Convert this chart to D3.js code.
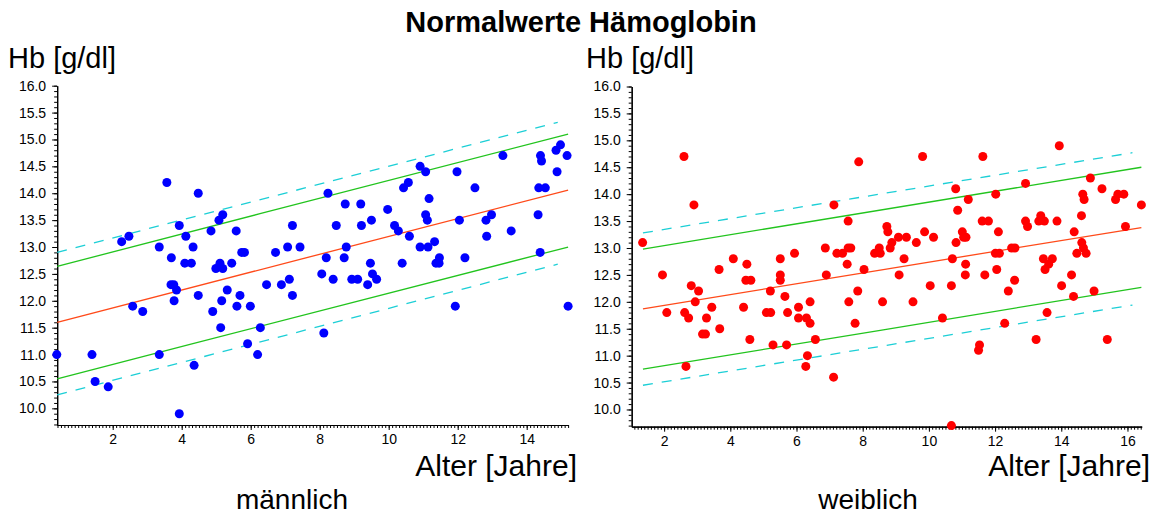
<!DOCTYPE html>
<html><head><meta charset="utf-8">
<script src="https://cdn.jsdelivr.net/npm/d3@7"></script>
<style>
body{margin:0;background:#fff;}
svg{display:block;font-family:"Liberation Sans",Arial,Helvetica,sans-serif;}
</style></head><body>
<svg id="chart" width="1161" height="515"></svg>
<script>
// Hb readings [age in years, Hb g/dl]
const malePoints = [
  [3.57,14.2],[4.48,14.0],[5.19,13.6],[5.08,13.5],[3.93,13.4],[7.21,13.4],[4.85,13.3],[5.58,13.3],
  [2.47,13.2],[4.12,13.2],[2.26,13.1],[3.35,13.0],[4.33,13.0],[7.07,13.0],[7.43,13.0],[5.74,12.9],
  [5.82,12.9],[6.72,12.9],[3.70,12.8],[4.09,12.7],[4.28,12.7],[5.11,12.7],[5.45,12.7],[4.99,12.6],
  [5.19,12.6],[3.69,12.3],[3.77,12.3],[3.85,12.2],[6.46,12.3],[6.89,12.3],[7.12,12.4],[5.32,12.2],
  [4.48,12.1],[5.69,12.1],[7.21,12.1],[3.78,12.0],[5.16,12.0],[2.58,11.9],[5.60,11.9],[5.99,11.9],
  [2.87,11.8],[4.90,11.8],[5.13,11.5],[6.28,11.5],[5.91,11.2],[0.38,11.0],[1.40,11.0],[3.35,11.0],
  [6.20,11.0],[4.36,10.8],[1.49,10.5],[1.87,10.4],[3.93,9.9],
  [14.98,14.9],[14.85,14.8],[15.17,14.7],[13.31,14.7],[14.40,14.7],[14.43,14.6],[10.91,14.5],[11.07,14.4],
  [11.98,14.4],[14.88,14.4],[10.57,14.2],[10.43,14.1],[12.50,14.1],[14.35,14.1],[14.54,14.1],[8.24,14.0],
  [11.17,13.9],[8.74,13.8],[9.19,13.8],[9.97,13.7],[11.07,13.6],[12.98,13.6],[14.33,13.6],[9.50,13.5],
  [11.12,13.5],[12.05,13.5],[12.82,13.5],[8.48,13.4],[9.21,13.4],[10.17,13.4],[10.28,13.3],[13.55,13.3],
  [10.60,13.2],[12.84,13.2],[8.77,13.0],[10.91,13.0],[11.14,13.0],[11.33,13.1],[8.19,12.8],[8.71,12.8],
  [11.47,12.8],[12.21,12.8],[9.47,12.7],[10.39,12.7],[11.37,12.7],[11.46,12.7],[8.06,12.5],[9.53,12.5],
  [8.39,12.4],[8.93,12.4],[9.10,12.4],[9.65,12.4],[9.39,12.3],[11.93,11.9],[15.20,11.9],[8.12,11.4],
  [14.39,12.9]
];
const femalePoints = [
  [2.60,14.7],[7.88,14.6],[2.90,13.8],[7.13,13.8],[7.56,13.5],[1.35,13.1],[8.73,13.4],[8.76,13.3],
  [6.87,13.0],[7.56,13.0],[7.64,13.0],[8.83,13.0],[4.09,12.8],[5.94,12.9],[7.22,12.9],[7.39,12.9],
  [8.36,12.9],[8.53,12.9],[8.50,13.0],[5.51,12.8],[4.50,12.7],[7.53,12.7],[3.66,12.6],[8.04,12.6],
  [1.95,12.5],[5.51,12.5],[6.90,12.5],[4.47,12.4],[4.62,12.4],[5.51,12.4],[2.82,12.3],[3.04,12.2],
  [5.21,12.2],[7.85,12.2],[5.65,12.1],[2.94,12.0],[6.41,12.0],[7.58,12.0],[8.60,12.0],[2.08,11.8],
  [2.62,11.8],[3.44,11.9],[4.40,11.9],[6.06,11.9],[5.09,11.8],[5.22,11.8],[5.73,11.8],[2.74,11.7],
  [3.28,11.7],[6.06,11.7],[6.30,11.7],[6.41,11.6],[7.77,11.6],[3.16,11.4],[3.25,11.4],[3.68,11.5],
  [4.59,11.3],[6.57,11.3],[5.29,11.2],[5.70,11.2],[6.33,11.0],[2.66,10.8],[6.28,10.8],[7.12,10.6],
  [13.94,14.9],[9.81,14.7],[11.63,14.7],[12.92,14.2],[14.88,14.3],[10.81,14.1],[15.23,14.1],[11.19,13.9],
  [12.02,14.0],[14.65,14.0],[14.69,13.9],[15.64,13.9],[15.71,14.0],[15.89,14.0],[16.42,13.8],[10.87,13.7],
  [14.61,13.6],[13.38,13.6],[11.61,13.5],[11.80,13.5],[12.92,13.5],[13.32,13.5],[13.49,13.5],[13.87,13.5],
  [12.98,13.4],[15.94,13.4],[11.01,13.3],[12.10,13.3],[14.39,13.3],[9.87,13.3],[9.08,13.2],[9.32,13.2],
  [10.14,13.2],[11.05,13.2],[11.12,13.2],[8.88,13.1],[9.62,13.1],[10.82,13.1],[14.62,13.1],[14.67,13.0],
  [14.47,12.9],[14.75,12.9],[12.50,13.0],[12.60,13.0],[12.01,12.9],[12.13,12.9],[9.25,12.8],[10.71,12.8],
  [13.46,12.8],[13.73,12.8],[11.11,12.7],[13.62,12.7],[13.51,12.6],[12.05,12.6],[9.10,12.5],[11.10,12.5],
  [11.69,12.5],[14.31,12.5],[12.59,12.4],[10.04,12.3],[10.68,12.3],[14.01,12.3],[12.40,12.2],[14.37,12.1],
  [14.99,12.2],[9.52,12.0],[10.41,11.7],[13.57,11.8],[12.29,11.6],[13.24,11.3],[15.39,11.3],[11.53,11.2],
  [11.50,11.1],[10.68,9.7]
];

// reference curves [age, Hb]
const maleMedian   = [[0.39,11.60],[7.43,12.77],[15.20,14.06]];
const maleInnerHi  = [[0.39,12.64],[6.27,13.62],[15.20,15.10]];
const maleInnerLo  = [[0.39,10.55],[4.24,11.19],[15.20,13.00]];
const maleOuterHi  = [[0.39,12.90],[14.90,15.32]];
const maleOuterLo  = [[0.39,10.25],[14.90,12.68]];
const femaleMedian  = [[1.36,11.87],[8.53,12.59],[16.42,13.38]];
const femaleInnerHi = [[1.36,12.98],[16.42,14.50]];
const femaleInnerLo = [[1.36,10.75],[8.53,11.47],[16.42,12.27]];
const femaleOuterHi = [[1.36,13.28],[16.15,14.77]];
const femaleOuterLo = [[1.36,10.45],[16.15,11.94]];

// axis ticks
const yTickLabels = [10.0,10.5,11.0,11.5,12.0,12.5,13.0,13.5,14.0,14.5,15.0,15.5,16.0];
const maleAgeTicks = [2,4,6,8,10,12,14];
const femaleAgeTicks = [2,4,6,8,10,12,14,16];

// text
const titleText = "Normalwerte Hämoglobin";
const yTitle = "Hb [g/dl]";
const xTitle = "Alter [Jahre]";
const panelNames = ["männlich","weiblich"];

const svg = d3.select("#chart");

const panels = [
  {name: panelNames[0], pts: malePoints, color: "#0000ff",
   median: maleMedian, innerHi: maleInnerHi, innerLo: maleInnerLo, outerHi: maleOuterHi, outerLo: maleOuterLo,
   ageTicks: maleAgeTicks, xDom: [0.39,15.2], xRange: [57.15,568.1], yDom: [9.69,16], yRange: [425,85.7],
   yTitleX: 8, xTitleX: 577, nameX: 292},
  {name: panelNames[1], pts: femalePoints, color: "#ff0000",
   median: femaleMedian, innerHi: femaleInnerHi, innerLo: femaleInnerLo, outerHi: femaleOuterHi, outerLo: femaleOuterLo,
   ageTicks: femaleAgeTicks, xDom: [1.02,16.43], xRange: [631.7,1141.7], yDom: [9.68,16], yRange: [426.7,86.5],
   yTitleX: 586, xTitleX: 1150, nameX: 868}
];

svg.append("text").attr("x", 581).attr("y", 32).attr("text-anchor","middle")
  .attr("font-size", 29).attr("font-weight","bold").attr("fill","#000").text(titleText);

panels.forEach(p => {
  const x = d3.scaleLinear().domain(p.xDom).range(p.xRange);
  const y = d3.scaleLinear().domain(p.yDom).range(p.yRange);
  const g = svg.append("g");

  // minor ticks every 0.1
  const yMinor = d3.range(Math.ceil(p.yDom[0]*10), Math.floor(p.yDom[1]*10)+1).map(v => v/10);
  const xMinor = d3.range(Math.ceil(p.xDom[0]*10), Math.floor(p.xDom[1]*10)+1).map(v => v/10);

  const yAxisMinor = d3.axisLeft(y).tickValues(yMinor).tickSize(3).tickFormat("").tickSizeOuter(0);
  const yAxisMajor = d3.axisLeft(y).tickValues(yTickLabels).tickSize(5).tickPadding(6)
    .tickFormat(d3.format(".1f")).tickSizeOuter(0);
  const xAxisMinor = d3.axisBottom(x).tickValues(xMinor).tickSize(3).tickFormat("").tickSizeOuter(0);
  const xAxisMajor = d3.axisBottom(x).tickValues(p.ageTicks).tickSize(5).tickPadding(4)
    .tickFormat(d3.format("d")).tickSizeOuter(0);

  const x0 = p.xRange[0], yb = p.yRange[0];
  [yAxisMinor, yAxisMajor].forEach(ax => {
    g.append("g").attr("transform", `translate(${x0},0)`).call(ax)
      .call(s => s.selectAll("text").attr("font-size", 14).attr("fill","#000")
        .attr("font-family",'"Liberation Sans",Arial,sans-serif'));
  });
  [xAxisMinor, xAxisMajor].forEach(ax => {
    g.append("g").attr("transform", `translate(0,${yb})`).call(ax)
      .call(s => s.selectAll("text").attr("font-size", 14).attr("fill","#000")
        .attr("font-family",'"Liberation Sans",Arial,sans-serif'));
  });
  g.selectAll(".domain").attr("stroke","#000").attr("stroke-width",1.2);
  g.selectAll(".tick line").attr("stroke","#000");

  // reference curves
  const line = d3.line().x(d => x(d[0])).y(d => y(d[1]));
  const curves = [
    {d: p.outerHi, c: "#1ccfd6", dash: "10,9"},
    {d: p.outerLo, c: "#1ccfd6", dash: "10,9"},
    {d: p.innerHi, c: "#22c41e", dash: null},
    {d: p.innerLo, c: "#22c41e", dash: null},
    {d: p.median,  c: "#ff4a1a", dash: null}
  ];
  curves.forEach(cv => {
    g.append("path").attr("d", line(cv.d)).attr("fill","none")
      .attr("stroke", cv.c).attr("stroke-width", 1.3)
      .attr("stroke-dasharray", cv.dash);
  });

  // data points
  g.append("g").selectAll("circle").data(p.pts).join("circle")
    .attr("cx", d => x(d[0])).attr("cy", d => y(d[1])).attr("r", 4.5)
    .attr("fill", p.color);

  // titles
  svg.append("text").attr("x", p.yTitleX).attr("y", 68).attr("font-size", 29)
    .attr("fill","#000").text(yTitle);
  svg.append("text").attr("x", p.xTitleX).attr("y", 476).attr("text-anchor","end")
    .attr("font-size", 30).attr("fill","#000").text(xTitle);
  svg.append("text").attr("x", p.nameX).attr("y", 509).attr("text-anchor","middle")
    .attr("font-size", 28).attr("fill","#000").text(p.name);
});
</script>
</body></html>
